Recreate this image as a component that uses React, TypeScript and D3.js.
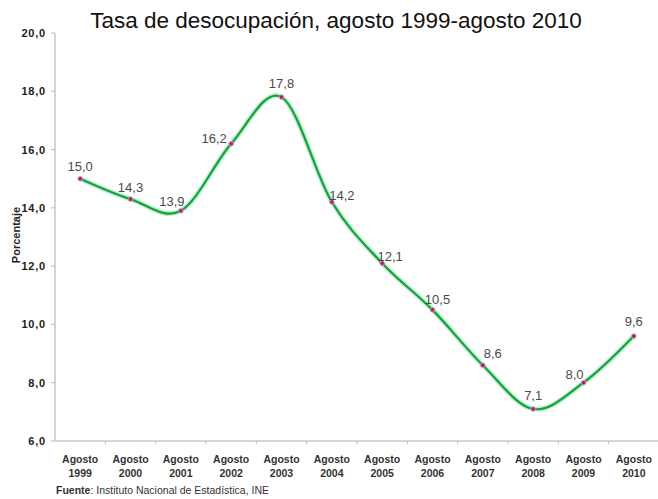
import React, { useEffect, useRef } from "react";
import * as d3 from "d3";

// Chart data
const years = ["1999", "2000", "2001", "2002", "2003", "2004", "2005", "2006", "2007", "2008", "2009", "2010"];
const rates = [15.0, 14.3, 13.9, 16.2, 17.8, 14.2, 12.1, 10.5, 8.6, 7.1, 8.0, 9.6];
const yTicks = [6, 8, 10, 12, 14, 16, 18, 20];

// Label nudges so the numbers sit like in the original (dx, dy from point)
const labelDx = [0, 0, -9, -17, 0, 10, 8, 5, 10, 0, -9, 0];
const labelDy = [-8, -7, -5, -1, -9, -2, -2, -6, -7, -9, -4, -10];

const theme = {
  background: "#ffffff",
  axisColor: "#d4d4d4",
  lineColor: "#0aa83a",
  glowColor: "#b5e8c0",
  pointColor: "#e0103a",
  pointStroke: "#9fb5ff",
  textColor: "#222222",
  labelColor: "#4a4a4a",
  fontFamily: "Arial, 'Liberation Sans', sans-serif"
};

const fmt = (v: number) => v.toFixed(1).replace(".", ",");

const App = () => {
  const svgRef = useRef<SVGSVGElement | null>(null);

  useEffect(() => {
    const width = 658;
    const height = 499;
    const left = 55;
    const right = 659;
    const top = 33;
    const bottom = 441;

    const svg = d3.select(svgRef.current).attr("width", width).attr("height", height);
    svg.selectAll("*").remove();

    svg.append("rect").attr("width", width).attr("height", height).attr("fill", theme.background);

    const x = d3.scaleBand<string>().domain(years).range([left, right]);
    const y = d3.scaleLinear().domain([6, 20]).range([bottom, top]);
    const cx = (i: number) => (x(years[i]) as number) + x.bandwidth() / 2;

    // Title
    svg
      .append("text")
      .attr("x", 336)
      .attr("y", 28)
      .attr("text-anchor", "middle")
      .attr("fill", "#111")
      .style("font-family", theme.fontFamily)
      .style("font-size", "22.5px")
      .text("Tasa de desocupación, agosto 1999-agosto 2010");

    // Axes
    svg
      .append("line")
      .attr("x1", left)
      .attr("y1", top)
      .attr("x2", left)
      .attr("y2", bottom)
      .attr("stroke", theme.axisColor)
      .attr("stroke-width", 2);

    svg
      .append("line")
      .attr("x1", left)
      .attr("y1", bottom)
      .attr("x2", width)
      .attr("y2", bottom)
      .attr("stroke", theme.axisColor)
      .attr("stroke-width", 2);

    // y ticks
    const yAxis = svg.append("g");
    yAxis
      .selectAll(".ytick")
      .data(yTicks)
      .enter()
      .append("line")
      .attr("x1", left - 4)
      .attr("x2", left)
      .attr("y1", (d) => y(d))
      .attr("y2", (d) => y(d))
      .attr("stroke", "#bbbbbb")
      .attr("stroke-width", 1);

    yAxis
      .selectAll(".ylabel")
      .data(yTicks)
      .enter()
      .append("text")
      .attr("x", left - 9)
      .attr("y", (d) => y(d) + 4)
      .attr("text-anchor", "end")
      .attr("fill", theme.textColor)
      .style("font-family", theme.fontFamily)
      .style("font-size", "11px")
      .style("font-weight", "bold")
      .style("letter-spacing", "0.8px")
      .text((d) => fmt(d));

    svg
      .append("text")
      .attr("transform", `translate(20,235) rotate(-90)`)
      .attr("text-anchor", "middle")
      .attr("fill", theme.textColor)
      .style("font-family", theme.fontFamily)
      .style("font-size", "11px")
      .style("font-weight", "bold")
      .text("Porcentaje");

    // x ticks (category boundaries)
    const xAxis = svg.append("g");
    xAxis
      .selectAll(".xtick")
      .data(years.slice(1))
      .enter()
      .append("line")
      .attr("x1", (d) => x(d) as number)
      .attr("x2", (d) => x(d) as number)
      .attr("y1", bottom)
      .attr("y2", bottom + 3)
      .attr("stroke", "#bbbbbb")
      .attr("stroke-width", 1);

    const xLabels = xAxis
      .selectAll(".xlabel")
      .data(years)
      .enter()
      .append("text")
      .attr("text-anchor", "middle")
      .attr("fill", "#333")
      .style("font-family", theme.fontFamily)
      .style("font-size", "10.5px")
      .style("font-weight", "bold");
    xLabels
      .append("tspan")
      .attr("x", (d, i) => cx(i))
      .attr("y", 463)
      .text("Agosto");
    xLabels
      .append("tspan")
      .attr("x", (d, i) => cx(i))
      .attr("y", 477)
      .text((d) => d);

    // Source
    const src = svg
      .append("text")
      .attr("x", 56)
      .attr("y", 494)
      .attr("fill", "#333")
      .style("font-family", theme.fontFamily)
      .style("font-size", "10.5px");
    src.append("tspan").style("font-weight", "bold").text("Fuente");
    src.append("tspan").text(": Instituto Nacional de Estadística, INE");

    // Line
    const line = d3
      .line<number>()
      .x((d, i) => cx(i))
      .y((d) => y(d))
      .curve(d3.curveCardinal.tension(0));

    svg
      .append("path")
      .datum(rates)
      .attr("d", line)
      .attr("fill", "none")
      .attr("stroke", theme.glowColor)
      .attr("stroke-width", 5)
      .attr("stroke-opacity", 0.8);

    svg
      .append("path")
      .datum(rates)
      .attr("d", line)
      .attr("fill", "none")
      .attr("stroke", theme.lineColor)
      .attr("stroke-width", 2.2);

    // Points
    svg
      .selectAll(".pt")
      .data(rates)
      .enter()
      .append("circle")
      .attr("cx", (d, i) => cx(i))
      .attr("cy", (d) => y(d))
      .attr("r", 2.3)
      .attr("fill", theme.pointColor)
      .attr("stroke", theme.pointStroke)
      .attr("stroke-width", 0.8);

    // Data labels
    svg
      .selectAll(".dl")
      .data(rates)
      .enter()
      .append("text")
      .attr("x", (d, i) => cx(i) + labelDx[i])
      .attr("y", (d, i) => y(d) + labelDy[i])
      .attr("text-anchor", "middle")
      .attr("fill", theme.labelColor)
      .style("font-family", theme.fontFamily)
      .style("font-size", "13px")
      .text((d) => fmt(d));
  }, []);

  return <svg ref={svgRef} style={{ position: "absolute", left: 0, top: 0 }}></svg>;
};

export default App;
